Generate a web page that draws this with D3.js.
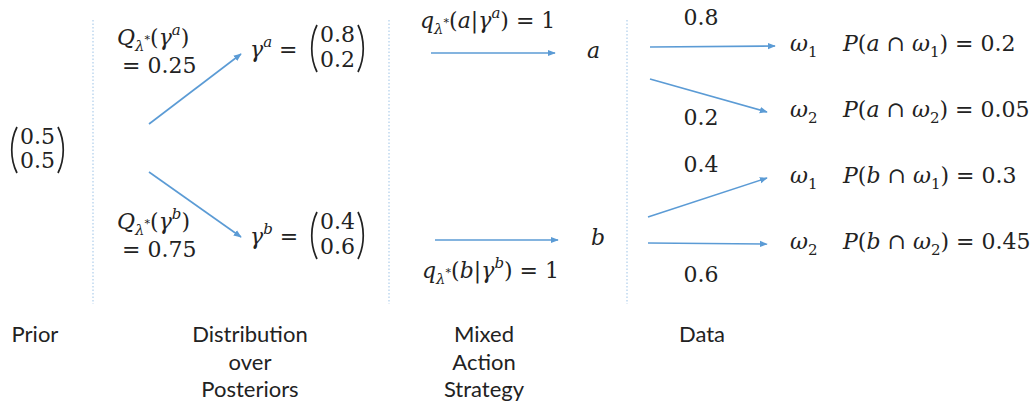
<!DOCTYPE html>
<html>
<head>
<meta charset="utf-8">
<title>Persuasion tree</title>
<script src="https://cdn.jsdelivr.net/npm/d3@7"></script>
<style>
body { margin:0; background:#fff; }
.m { font-family:"DejaVu Serif", serif; font-size:22px; fill:#222; }
.lab { font-family:Lato, "Open Sans", sans-serif; font-size:22px; fill:#222; }
</style>
</head>
<body>
<script>
// ---- data ----
var prior = [0.5, 0.5];
var signals = ["a", "b"];
var posteriors = [[0.8, 0.2], [0.4, 0.6]];
var Q = [0.25, 0.75];
var actionProb = [1, 1];
var states = ["1", "2"];
var transition = [[0.8, 0.2], [0.4, 0.6]];
var joint = [[0.2, 0.05], [0.3, 0.45]];
var stages = [["Prior"], ["Distribution", "over", "Posteriors"], ["Mixed", "Action", "Strategy"], ["Data"]];

var width = 1032, height = 406;
var blue = "#5b9bd5";
var svg = d3.select("body").append("svg").attr("width", width).attr("height", height);

svg.append("defs").append("marker").attr("id", "ah")
  .attr("viewBox", "0 0 10 10").attr("refX", 9).attr("refY", 5)
  .attr("markerWidth", 5).attr("markerHeight", 5).attr("orient", "auto")
  .append("path").attr("d", "M0,1 L10,5 L0,9 Z").attr("fill", blue);

// ---- layout scales ----
var stageX = d3.scaleOrdinal().domain(d3.range(4)).range([35, 250, 484, 702]);
var divX = d3.scaleOrdinal().domain(d3.range(3)).range([93, 389, 627]);
var sigY = d3.scalePoint().domain(signals).range([48, 235]);
var leafY = d3.scalePoint().domain(d3.range(4)).range([51, 249]);

// dotted separators
svg.selectAll("line.sep").data(d3.range(3)).enter().append("line")
  .attr("class", "sep")
  .attr("x1", divX).attr("x2", divX).attr("y1", 20).attr("y2", 304)
  .attr("stroke", "#9dc3e6").attr("stroke-width", 1).attr("stroke-dasharray", "1.5,2");

// math text helper: parts = [text, kind]
function math(x, y, parts, anchor) {
  var t = svg.append("text").attr("class", "m").attr("x", x).attr("y", y)
    .attr("text-anchor", anchor || "start");
  var off = 0;
  parts.forEach(function(p) {
    var kind = p[1] || "n";
    var target = 0, size = 22, style = "normal";
    if (kind === "i") style = "italic";
    if (kind === "sub") { target = 6; size = 15; style = "italic"; }
    if (kind === "subn") { target = 6; size = 15; }
    if (kind === "sup") { target = -10; size = 15; style = "italic"; }
    if (kind === "subsup") { target = -2; size = 11; }
    t.append("tspan").attr("dy", target - off).attr("font-size", size)
      .attr("font-style", style).text(p[0]);
    off = target;
  });
  return t;
}

function paren(x, y0, y1, dir) {
  var h = y1 - y0, w = 6 * dir;
  svg.append("path")
    .attr("d", "M" + (x + w) + "," + y0 + " C" + (x - 1 * dir) + "," + (y0 + h * 0.3) + " " +
      (x - 1 * dir) + "," + (y0 + h * 0.7) + " " + (x + w) + "," + y1)
    .attr("fill", "none").attr("stroke", "#222").attr("stroke-width", 1.7);
}

// column vector in big brackets, one text element with stacked tspans
function vector(xl, xr, yTop, vals, size, gap) {
  paren(xl, yTop - 17, yTop + gap + 5, 1);
  paren(xr, yTop - 17, yTop + gap + 5, -1);
  var t = svg.append("text").attr("class", "m").attr("font-size", size)
    .attr("y", yTop).attr("text-anchor", "middle");
  vals.forEach(function(v, i) {
    t.append("tspan").attr("x", (xl + xr) / 2).attr("dy", i === 0 ? 0 : gap).text(v.toFixed(1));
  });
}

function arrow(x1, y1, x2, y2) {
  svg.append("line").attr("x1", x1).attr("y1", y1).attr("x2", x2).attr("y2", y2)
    .attr("stroke", blue).attr("stroke-width", 1.6).attr("marker-end", "url(#ah)");
}

// prior
vector(11, 64, 144, prior, 17, 24);

// posteriors
signals.forEach(function(s, i) {
  var y = sigY(s);
  var qy = i === 0 ? 45 : 229;
  math(117, qy, [["Q", "i"], ["\u03bb", "sub"], ["*", "subsup"], ["(", "n"], ["\u03b3", "i"], [s, "sup"], [")", "n"]]);
  math(122, qy + 28, [["= " + Q[i].toFixed(2), "n"]]);
  arrow(149, i === 0 ? 124 : 172, 241, i === 0 ? 54 : 237);
  math(250, y + 9, [["\u03b3", "i"], [s, "sup"], [" =", "n"]]);
  vector(311, 364, y - 6, posteriors[i], 21, 25);

  // action
  var ay = y + 5;
  arrow(i === 0 ? 431 : 435, ay, i === 0 ? 555 : 558, ay);
  math(i === 0 ? 587 : 591, ay + 5, [[s, "i"]]);
  math(i === 0 ? 420 : 422, i === 0 ? 28 : 278,
    [["q", "i"], ["\u03bb", "sub"], ["*", "subsup"], ["(", "n"], [s, "i"], ["|", "n"], ["\u03b3", "i"], [s, "sup"], [") = " + actionProb[i], "n"]]);

  // data
  states.forEach(function(w, j) {
    var k = i * 2 + j;
    var ly = leafY(k);
    var sx = i === 0 ? 650 : 648;
    var sy = [47, 79, 217, 243][k];
    arrow(sx, sy, j === 0 && i === 0 ? 775 : 767, ly - 5);
    math(701, [25, 125, 172, 282][k], [[transition[i][j].toFixed(1), "n"]], "middle");
    math(790, ly, [["\u03c9", "i"], [w, "subn"]]);
    math(843, ly, [["P", "i"], ["(", "n"], [s, "i"], [" \u2229 ", "n"], ["\u03c9", "i"], [w, "subn"], [") = " + joint[i][j], "n"]]);
  });
});

// stage labels
stages.forEach(function(lines, i) {
  var t = svg.append("text").attr("class", "lab")
    .attr("x", stageX(i)).attr("y", 342).attr("text-anchor", "middle");
  lines.forEach(function(l, j) {
    t.append("tspan").attr("x", stageX(i)).attr("dy", j === 0 ? 0 : 27.5).text(l);
  });
});
</script>
</body>
</html>
